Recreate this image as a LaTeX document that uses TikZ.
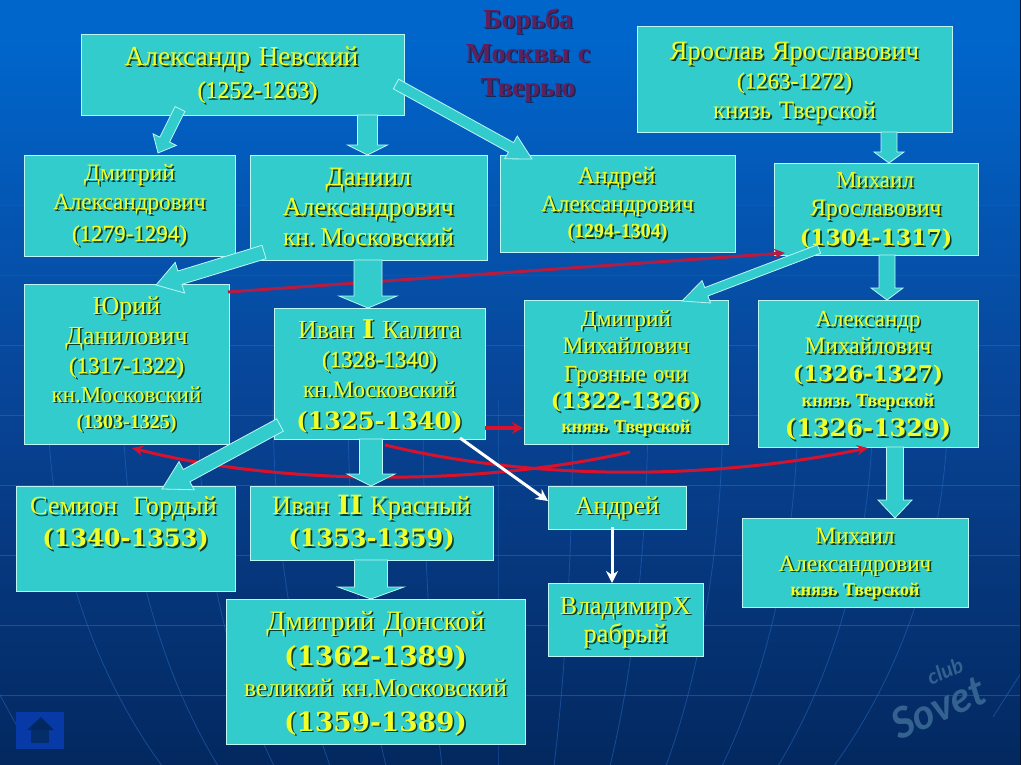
\documentclass[tikz,border=0pt]{standalone}
\usepackage{fontspec}
\setmainfont{Liberation Serif}
\newfontfamily\wbold{DejaVu Serif}[BoldFont={DejaVu Serif Bold}]
\newfontfamily\nbold{Liberation Serif}[FakeBold=0.5]
\newfontfamily\markfont{Lato}
\usetikzlibrary{calc,arrows.meta,shadings}
\parskip=0pt
\parindent=0pt
\definecolor{tealbox}{RGB}{51,204,204}
\definecolor{tealedge}{RGB}{190,245,245}
\definecolor{txtyellow}{RGB}{240,255,40}
\definecolor{txtshadow}{RGB}{10,60,50}
\definecolor{crim}{RGB}{215,18,45}
\definecolor{crimdull}{RGB}{182,28,66}
\definecolor{bgtop}{RGB}{0,102,204}
\definecolor{bgmid}{RGB}{8,68,150}
\definecolor{bgbot}{RGB}{3,40,95}
\definecolor{gridl}{RGB}{40,110,200}
\definecolor{titlec}{RGB}{96,32,92}
\definecolor{titles}{RGB}{20,40,90}
\definecolor{markc}{RGB}{52,98,144}
\tikzset{
  princebox/.style={draw=tealedge,line width=0.9pt,fill=tealbox,inner sep=0pt,outer sep=0pt},
  princetext/.style={text=txtyellow,inner sep=0pt,outer sep=0pt,align=center},
  princeshadow/.style={text=txtshadow,inner sep=0pt,outer sep=0pt,align=center},
  blockstyle/.style={draw=tealedge,line width=0.8pt,fill=tealbox,line join=miter},
  redline/.style={draw=crim,line width=3pt,-{Stealth[length=11pt,width=10pt]}},
  whiteline/.style={draw=white,line width=3pt,-{Stealth[length=12pt,width=12pt]}},
  gridline/.style={draw=gridl,line width=0.8pt,opacity=0.5},
  gridfaint/.style={draw=gridl,line width=0.8pt,opacity=0.22},
}
% #1 optional x offset, #2 size, #3 distance from the baseline above, #4 text
\newcommand\lnn[4][0]{{\fontsize{#2}{#3}\selectfont\lineskiplimit=-1000pt\spaceskip=0.3em\relax\leavevmode\kern#1pt\kern#1pt\rule{0pt}{#3pt}#4\par}}
\newcommand\prince[6]{%
  \pgfmathsetmacro\bw{#4-#2}\pgfmathsetmacro\bh{#5-#3}%
  \node[princebox,minimum width=\bw pt,minimum height=\bh pt] (#1) at ({(#2+#4)/2},{(#3+#5)/2}) {};
  \node[princeshadow,text width=\bw pt,anchor=north] (#1s) at ($(#1.north)+(1.6,1.6)$) {#6};
  \node[princetext,text width=\bw pt,anchor=north] (#1t) at (#1.north) {#6};
}
\newcommand\blockarrow[5]{%
  \coordinate (neck) at ($(#2)!#5pt!(#1)$);
  \draw[blockstyle] ($(#1)!#3pt!90:(#2)$) -- ($(neck)!#3pt!90:(#2)$) -- ($(neck)!#4pt!90:(#2)$) -- (#2) -- ($(neck)!#4pt!-90:(#2)$) -- ($(neck)!#3pt!-90:(#2)$) -- ($(#1)!#3pt!-90:(#2)$) -- cycle;
}
\newcommand\W[1]{{\wbold\bfseries #1}}
\newcommand\N[1]{{\nbold #1}}
\newcommand\B[1]{{\bfseries #1}}
\begin{document}
\begin{tikzpicture}[x=1pt,y=-1pt]
\useasboundingbox (0,0) rectangle (1021,765);
% background
\fill[bgtop] (0,0) rectangle (1021,40);
\shade[top color=bgtop,bottom color=bgmid] (0,40) rectangle (1021,400);
\shade[top color=bgmid,bottom color=bgbot] (0,400) rectangle (1021,765);
\foreach \gy in {205,275}{\draw[gridfaint] (0,\gy) -- (1021,\gy);}
\foreach \gy in {345,415,485,555,625,695}{\draw[gridline] (0,\gy) -- (1021,\gy);}
\foreach \gk in {-6,...,6}{
  \draw[gridline,domain=400:765,samples=30,smooth,variable=\t]
    plot ({498+75*\gk*sqrt(1-((\t-400)/550)^2)},{\t});
}
\draw[gridline] (0,695) -- (18,728);
\draw[gridline] (1021,673) -- (993,717);
\fill[black!70!bgmid] (1020,0) rectangle (1021,765);
% home button
\fill[bgmid!85!blue] (16,712) rectangle (64,749);
\fill[bgbot!80!bgmid] (31,729) rectangle (49,743);
\fill[bgbot] (27,730) -- (41,717) -- (54,730) -- cycle;
% watermark
\node[text=markc,font=\markfont\itshape\bfseries\fontsize{42}{42}\selectfont,rotate=24,inner sep=0pt] (sovetmark) at (938,707) {Sovet};
\node[text=markc,font=\markfont\itshape\bfseries\fontsize{21}{21}\selectfont,rotate=24,inner sep=0pt] (clubmark) at (945,671) {club};
% title
\node[text=titles,font=\bfseries,inner sep=0pt,text width=200pt,align=center,anchor=north] (titles) at (529.5,1.5) {\lnn{27.5}{28}{Борьба}\lnn{27.5}{34}{Москвы с}\lnn{27.5}{34}{Тверью}};
\node[text=titlec,font=\bfseries,inner sep=0pt,text width=200pt,align=center,anchor=north] (title) at (528,0) {\lnn{27.5}{28}{Борьба}\lnn{27.5}{34}{Москвы с}\lnn{27.5}{34}{Тверью}};
% boxes
\prince{nevsky}{81}{34}{404}{115}{\lnn[-1]{27.5}{31.5}{Александр Невский}\lnn[15]{24}{32.5}{\N{(1252-1263)}}}
\prince{yaroslav}{637}{26}{952}{132}{\lnn{26.5}{33.5}{Ярослав Ярославович}\lnn{23}{29}{\N{(1263-1272)}}\lnn{25}{30}{князь Тверской}}
\prince{dmitrya}{24}{155}{235}{256}{\lnn{23.5}{26}{Дмитрий}\lnn{23.2}{29}{Александрович}\lnn{23}{31}{\N{(1279-1294)}}}
\prince{daniil}{250}{155}{487}{260}{\lnn{26.5}{30.5}{Даниил}\lnn{26}{30}{Александрович}\lnn{25.5}{30}{кн. Московский}}
\prince{andreya}{500}{155}{735}{252}{\lnn[-1]{24}{29}{Андрей}\lnn{23.2}{28}{Александрович}\lnn{20}{26}{\B{(1294-1304)}}}
\prince{mikhaily}{774}{163}{978}{255}{\lnn[-1]{23}{25}{Михаил}\lnn{23.6}{28}{Ярославович}\lnn{22}{30}{\W{(1304-1317)}}}
\prince{yuri}{24}{284}{229}{444}{\lnn{26}{30}{Юрий}\lnn{26}{30}{Данилович}\lnn{23}{29}{\N{(1317-1322)}}\lnn{23}{29}{кн.Московский}\lnn{20}{26}{\B{(1303-1325)}}}
\prince{kalita}{274}{308}{485}{439}{\lnn{26}{30}{Иван \W{I} Калита}\lnn{23}{29}{\N{(1328-1340)}}\lnn{23.5}{30}{кн.Московский}\lnn{24}{32}{\W{(1325-1340)}}}
\prince{dmitrym}{524}{300}{728}{444}{\lnn{23.3}{26}{Дмитрий}\lnn{23.5}{27}{Михайлович}\lnn{23}{28.5}{Грозные очи}\lnn{21.7}{27}{\W{(1322-1326)}}\lnn{18}{24}{\B{князь Тверской}}}
\prince{alexm}{758}{300}{978}{447}{\lnn{23}{26.5}{Александр}\lnn{23.5}{27}{Михайлович}\lnn{21.7}{28}{\W{(1326-1327)}}\lnn{18.5}{25}{\B{князь Тверской}}\lnn{24}{30}{\W{(1326-1329)}}}
\prince{semion}{16}{486}{235}{591}{\lnn[-2]{26.2}{28.5}{Семион~~Гордый}\lnn{24}{32}{\W{(1340-1353)}}}
\prince{ivan2}{250}{486}{493}{560}{\lnn{26.5}{28.5}{Иван \W{II} Красный}\lnn{24}{32}{\W{(1353-1359)}}}
\prince{andreyb}{548}{486}{686}{529}{\lnn{26}{28}{Андрей}}
\prince{mikhaila}{742}{518}{968}{607}{\lnn{23.4}{25.5}{Михаил}\lnn{23.2}{27.5}{Александрович}\lnn{18}{24.5}{\B{князь Тверской}}}
\prince{donskoy}{226}{599}{525}{744}{\lnn{28}{31}{Дмитрий Донской}\lnn{26.4}{35.5}{\W{(1362-1389)}}\lnn{25.5}{30.5}{великий кн.Московский}\lnn{26.4}{35}{\W{(1359-1389)}}}
\prince{vladimir}{548}{583}{703}{656}{\lnn{26}{31}{ВладимирХ}\lnn{26.5}{28.5}{рабрый}}
% red connectors
\coordinate (rs1) at ($(yuri.north east)+(-1,8)$);
\coordinate (re1) at ($(mikhaily.south west)+(11,-2)$);
\draw[redline,draw=crimdull] (rs1) -- (re1);
\coordinate (rs2) at ($(dmitrym.south west)+(106,8)$);
\coordinate (re2) at ($(yuri.south west)+(108,4)$);
\draw[redline] (rs2) .. controls ($(dmitrym.south west)+(-44,42)$) and ($(kalita.south west)+(6,47)$) .. (re2);
\coordinate (rs3) at ($(kalita.south west)+(111,6)$);
\coordinate (re3) at ($(alexm.south west)+(110,1)$);
\draw[redline] (rs3) .. controls ($(kalita.south west)+(256,41)$) and ($(alexm.south west)+(-53,34)$) .. (re3);
\coordinate (rs4) at ($(kalita.south east)+(0,-11)$);
\coordinate (re4) at ($(dmitrym.south west)+(-1,-16)$);
\draw[draw=crim,line width=4pt,-{Stealth[length=11pt,width=12pt]}] (rs4) -- (re4);
% block arrows
\coordinate (a1) at ($(nevsky.south west)+(99,-6)$);
\coordinate (b1) at ($(dmitrya.north west)+(134,-2)$);
\blockarrow{a1}{b1}{5.5}{13}{15}
\coordinate (a2) at (nevsky.south -| daniil.north);
\coordinate (b2) at (daniil.north);
\blockarrow{$(a2)+(-1,0)$}{$(b2)+(-1,0)$}{10}{20}{10}
\coordinate (a3) at ($(nevsky.north east)+(-8,50)$);
\coordinate (b3) at ($(andreya.north west)+(32,4)$);
\blockarrow{a3}{b3}{5.5}{13}{24}
\coordinate (a4) at ($(yaroslav.south west)+(252,0)$);
\coordinate (b4) at ($(mikhaily.north west)+(115,0)$);
\blockarrow{a4}{b4}{8}{15}{11}
\coordinate (a5) at ($(daniil.south west)+(14,-8)$);
\coordinate (b5) at ($(yuri.north west)+(132,1)$);
\blockarrow{a5}{b5}{7}{16}{25}
\coordinate (a6) at ($(daniil.south west)+(118,0)$);
\coordinate (b6) at ($(kalita.north west)+(94,0)$);
\blockarrow{a6}{b6}{14}{29}{12}
\coordinate (a7) at ($(mikhaily.south west)+(45,-6)$);
\coordinate (b7) at ($(dmitrym.north west)+(158,1)$);
\blockarrow{a7}{b7}{4.5}{12}{26}
\coordinate (a8) at ($(mikhaily.south west)+(113,0)$);
\coordinate (b8) at ($(alexm.north west)+(129,0)$);
\blockarrow{a8}{b8}{8}{16}{12}
\coordinate (a9) at ($(kalita.south west)+(6,-14)$);
\coordinate (b9) at ($(semion.north west)+(146,3)$);
\blockarrow{a9}{b9}{7}{16}{28}
\coordinate (a10) at ($(kalita.south west)+(97,0)$);
\coordinate (b10) at ($(ivan2.north west)+(121,0)$);
\blockarrow{a10}{b10}{11.5}{24}{12}
\coordinate (a11) at ($(ivan2.south west)+(121,0)$);
\coordinate (b11) at ($(donskoy.north west)+(145,0)$);
\blockarrow{a11}{b11}{16.5}{33}{12}
\coordinate (a12) at ($(alexm.south west)+(137,0)$);
\coordinate (b12) at ($(mikhaila.north west)+(153,0)$);
\blockarrow{a12}{b12}{8.5}{17}{18}
% white connectors
\coordinate (ws1) at ($(kalita.south west)+(186,-1)$);
\coordinate (we1) at ($(andreyb.north west)+(0,15)$);
\draw[whiteline] (ws1) -- (we1);
\coordinate (ws2) at ($(andreyb.south west)+(64,-2)$);
\coordinate (we2) at ($(vladimir.north west)+(64,0)$);
\draw[whiteline] (ws2) -- (we2);
\end{tikzpicture}
\end{document}
